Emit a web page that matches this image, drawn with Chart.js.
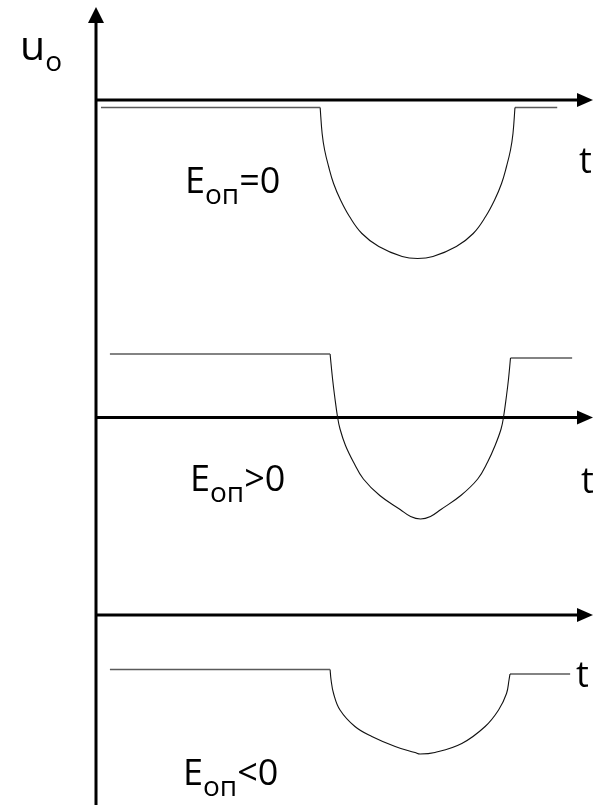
<!DOCTYPE html>
<html>
<head>
<meta charset="utf-8">
<script src="https://cdn.jsdelivr.net/npm/chart.js@4.4.1/dist/chart.umd.min.js"></script>
<style>
    html, body {margin: 0; padding: 0; background: #ffffff;}
    canvas {display: block;}
</style>
</head>
<body>
<canvas id="comparator" width="604" height="805"></canvas>
<script>
/*------------------------------------------------------*/
/**
 * @file index.html
 * @description comparator output u_o(t) for three reference voltages
 */
/*------------------------------------------------------*/

// panel 1 : E_оп = 0
const p1_left_t  = [0.10, 4.51];
const p1_left_u  = [-0.15, -0.15];
const p1_dip_t   = [4.51, 4.55, 4.60, 4.68, 4.78, 4.92, 5.10, 5.35, 5.69, 6.16, 6.47,
                    6.78, 7.25, 7.59, 7.84, 8.02, 8.16, 8.26, 8.34, 8.39, 8.43];
const p1_dip_u   = [-0.15, -0.67, -1.00, -1.33, -1.67, -2.00, -2.33, -2.67, -2.93, -3.13, -3.17,
                    -3.13, -2.93, -2.67, -2.33, -2.00, -1.67, -1.33, -1.00, -0.67, -0.15];
const p1_right_t = [8.43, 9.28];
const p1_right_u = [-0.15, -0.15];

// panel 2 : E_оп > 0
const p2_left_t  = [0.28, 4.71];
const p2_left_u  = [1.27, 1.27];
const p2_dip_t   = [4.71, 4.76, 4.80, 4.86, 4.91, 5.02, 5.18, 5.38, 5.71, 6.12, 6.33, 6.53,
                    6.73, 6.94, 7.34, 7.68, 7.88, 8.03, 8.15, 8.20, 8.26, 8.30, 8.34];
const p2_dip_u   = [1.27, 0.77, 0.44, 0.01, -0.23, -0.56, -0.89, -1.23, -1.56, -1.84, -1.98, -2.03,
                    -1.98, -1.84, -1.56, -1.23, -0.89, -0.56, -0.23, 0.01, 0.44, 0.77, 1.19];
const p2_right_t = [8.34, 9.58];
const p2_right_u = [1.19, 1.19];

// panel 3 : E_оп < 0
const p3_left_t  = [0.28, 4.71];
const p3_left_u  = [-1.09, -1.09];
const p3_dip_t   = [4.71, 4.73, 4.78, 4.91, 5.21, 5.55, 6.02, 6.42, 6.52,
                    6.82, 7.36, 7.83, 8.10, 8.26, 8.31, 8.33];
const p3_dip_u   = [-1.09, -1.30, -1.57, -1.90, -2.23, -2.43, -2.63, -2.75, -2.78,
                    -2.75, -2.57, -2.23, -1.90, -1.57, -1.30, -1.18];
const p3_right_t = [8.33, 9.54];
const p3_right_u = [-1.18, -1.18];

// label texts
const axis_name   = ['u', 'o'];
const time_name   = 't';
const ref_main    = 'E';
const ref_sub     = 'оп';
const ref_tails   = ['=0', '>0', '<0'];

/**
 * @name pts
 * @description zip two arrays into {x, y} points
 */
const pts = (t, u) => t.map((v, i) => ({x: v, y: u[i]}));

/**
 * @name level
 * @description flat part of a trace
 */
const level = (t, u, axis) => ({
    data: pts(t, u),
    yAxisID: axis,
    borderColor: '#5a5a5a',
    borderWidth: 1.6,
    pointRadius: 0,
    showLine: true,
    tension: 0
});

/**
 * @name dip
 * @description curved part of a trace
 */
const dip = (t, u, axis) => ({
    data: pts(t, u),
    yAxisID: axis,
    borderColor: '#111111',
    borderWidth: 1.1,
    pointRadius: 0,
    showLine: true,
    tension: 0.4
});

const datasets = [
    level(p1_left_t, p1_left_u, 'y1'),
    dip(p1_dip_t, p1_dip_u, 'y1'),
    level(p1_right_t, p1_right_u, 'y1'),
    level(p2_left_t, p2_left_u, 'y2'),
    dip(p2_dip_t, p2_dip_u, 'y2'),
    level(p2_right_t, p2_right_u, 'y2'),
    level(p3_left_t, p3_left_u, 'y3'),
    dip(p3_dip_t, p3_dip_u, 'y3'),
    level(p3_right_t, p3_right_u, 'y3')
];

/**
 * @name text_with_sub
 * @description main text, lowered subscript, then tail
 */
function text_with_sub(ctx, x, y, main, sub, tail, size, sub_size, drop){
    ctx.font = `${size}px "Open Sans"`;
    ctx.fillText(main, x, y);
    x += ctx.measureText(main).width;
    ctx.font = `${sub_size}px "Open Sans"`;
    ctx.fillText(sub, x, y + drop);
    x += ctx.measureText(sub).width;
    if (tail) {
        ctx.font = `${size}px "Open Sans"`;
        ctx.fillText(tail, x, y);
    }
}

/**
 * @name axes_plugin
 * @description arrows for u_o and the three t axes, plus labels
 */
const axes_plugin = {
    id: 'axes_plugin',
    beforeDatasetsDraw(chart){
        const ctx = chart.ctx;
        const area = chart.chartArea;
        ctx.save();
        ctx.strokeStyle = '#000';
        ctx.fillStyle = '#000';
        ctx.lineWidth = 3;
        // vertical u axis
        const x0 = area.left;
        ctx.beginPath();
        ctx.moveTo(x0, area.bottom + 5);
        ctx.lineTo(x0, 20);
        ctx.stroke();
        ctx.beginPath();
        ctx.moveTo(x0, 7);
        ctx.lineTo(x0 - 8, 23);
        ctx.lineTo(x0 + 8, 23);
        ctx.closePath();
        ctx.fill();
        // horizontal t axes
        ['y1', 'y2', 'y3'].forEach(id => {
            const y = chart.scales[id].getPixelForValue(0);
            ctx.beginPath();
            ctx.moveTo(x0, y);
            ctx.lineTo(area.right - 12, y);
            ctx.stroke();
            ctx.beginPath();
            ctx.moveTo(area.right, y);
            ctx.lineTo(area.right - 16, y - 7);
            ctx.lineTo(area.right - 16, y + 7);
            ctx.closePath();
            ctx.fill();
        });
        ctx.restore();
    },
    afterDatasetsDraw(chart){
        const ctx = chart.ctx;
        const xs = chart.scales.x;
        const ys = [chart.scales.y1, chart.scales.y2, chart.scales.y3];
        ctx.save();
        ctx.fillStyle = '#000';
        ctx.textBaseline = 'alphabetic';
        // u_o
        text_with_sub(ctx, chart.chartArea.left - 76, ys[0].getPixelForValue(0.80),
            axis_name[0], axis_name[1], '', 41, 28, 11);
        // t labels
        const t_at = [[9.72, -1.46], [9.76, -1.50], [9.66, -1.44]];
        t_at.forEach((p, i) => {
            ctx.font = '36px "Open Sans"';
            ctx.fillText(time_name, xs.getPixelForValue(p[0]), ys[i].getPixelForValue(p[1]));
        });
        // E_оп labels
        const e_at = [[1.79, -1.86], [1.89, -1.46], [1.75, -3.40]];
        e_at.forEach((p, i) => {
            text_with_sub(ctx, xs.getPixelForValue(p[0]), ys[i].getPixelForValue(p[1]),
                ref_main, ref_sub, ref_tails[i], 36, 28, 11);
        });
        ctx.restore();
    }
};

/**
 * @name hidden_y
 * @description stacked hidden y scale for one panel
 */
const hidden_y = (min, max, weight, order) => ({
    type: 'linear',
    display: false,
    min: min,
    max: max,
    stack: 'panels',
    stackWeight: weight,
    weight: order
});

const config = {
    type: 'scatter',
    data: {datasets: datasets},
    options: {
        responsive: false,
        animation: false,
        events: [],
        layout: {padding: {left: 96, right: 11, top: 25, bottom: 5}},
        plugins: {legend: {display: false}, tooltip: {enabled: false}},
        scales: {
            x: {type: 'linear', display: false, min: 0, max: 10},
            y1: hidden_y(-4.00, 1.50, 275, 3),
            y2: hidden_y(-3.45, 2.35, 290, 2),
            y3: hidden_y(-3.70, 0.50, 210, 1)
        }
    },
    plugins: [axes_plugin]
};

const chart_comparator = new Chart(document.getElementById('comparator'), config);
</script>
</body>
</html>
